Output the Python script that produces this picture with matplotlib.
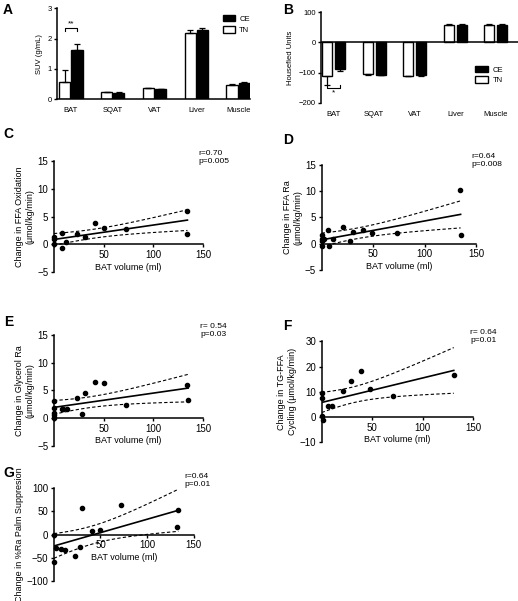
import matplotlib
matplotlib.use("Agg")
import matplotlib.pyplot as plt
from matplotlib.patches import Patch
import numpy as np

plt.rcParams['font.family'] = ['Liberation Sans', 'DejaVu Sans']
plt.rcParams['axes.linewidth'] = 1.1

tissues = ["BAT", "SQAT", "VAT", "Liver", "Muscle"]

# A: SUV (g/mL)
suv_tn = [0.57, 0.23, 0.37, 2.20, 0.47]
suv_tn_err = [0.41, 0.01, 0.01, 0.07, 0.02]
suv_ce = [1.62, 0.22, 0.32, 2.27, 0.55]
suv_ce_err = [0.21, 0.01, 0.01, 0.08, 0.02]

# B: Housefied units
hu_tn = [-110, -105, -110, 57, 57]
hu_tn_err = [30, 2, 2, 2, 2]
hu_ce = [-88, -107, -108, 58, 57]
hu_ce_err = [7, 2, 2, 2, 2]

# C: FFA oxidation
bat_c = [0, 0.5, 0, 7.7, 8.3, 12, 23, 31, 41.7, 50, 72.7, 133.7, 134.3]
ffa_ox = [1.3, 0.9, 0.0, 2.1, -0.6, 0.5, 1.8, 1.3, 3.9, 3.0, 2.8, 6.1, 1.9]

# D: FFA Ra
bat_d = [0, 0, 0.5, 0, 2, 5.8, 7, 10.7, 21, 27.5, 30, 40, 48.5, 73, 134, 135]
ffa_ra = [1.65, 0.95, 0.4, -0.45, 0.9, 2.5, -0.45, 0.8, 3.1, 0.5, 2.2, 2.5, 2.1, 2.0, 10.1, 1.65]

# E: glycerol Ra
bat_e = [0, 0, 0, 0, 0.5, 7.7, 9.3, 12.7, 23, 28, 31.7, 41.7, 50, 72.7, 133.7, 135]
glyc_ra = [0.0, 1.0, 1.9, 3.1, 0.6, 1.7, 1.6, 1.7, 3.7, 0.7, 4.5, 6.5, 6.4, 2.4, 5.9, 3.3]

# F: TG-FFA cycling
bat_f = [0, 0, 0, 1.6, 5.8, 10.4, 21, 29, 39, 48, 70.5, 131]
tg_ffa = [9.5, 7.5, 0.5, -1.1, 4.2, 4.5, 10.2, 14.4, 18.1, 11.2, 8.5, 16.6]

# G: %Ra palm suppression
bat_g = [0, 0, 2.1, 8.1, 12, 22.5, 27.5, 30.3, 40.8, 49.3, 72.2, 132.4, 133.5]
palm = [0, -57.8, -29, -31, -33, -45.5, -26, 57, 7.2, 10.8, 63.5, 16.6, 53.4]

T95 = {10: 2.228, 11: 2.201, 12: 2.179, 13: 2.160, 14: 2.145, 15: 2.131, 16: 2.120}


def fit_band(x, y):
    x = np.asarray(x, float)
    y = np.asarray(y, float)
    n = len(x)
    b, a = np.polyfit(x, y, 1)
    xs = np.linspace(x.min(), x.max(), 80)
    yh = a + b * xs
    s = np.sqrt(np.sum((y - (a + b * x)) ** 2) / (n - 2))
    se = s * np.sqrt(1 / n + (xs - x.mean()) ** 2 / np.sum((x - x.mean()) ** 2))
    t = T95[n - 2]
    return xs, yh, yh - t * se, yh + t * se


def scatter_panel(ax, x, y, ylim, yticks, ylabel, note, note_xy):
    ax.plot(x, y, 'o', color='black', ms=3, clip_on=False, zorder=3)
    xs, yh, lo, hi = fit_band(x, y)
    ax.plot(xs, yh, color='black', lw=1.2)
    ax.plot(xs, lo, color='black', lw=0.8, dashes=(3, 2))
    ax.plot(xs, hi, color='black', lw=0.8, dashes=(3, 2))
    ax.set_xlim(0, 150)
    ax.set_ylim(*ylim)
    ax.spines['top'].set_visible(False)
    ax.spines['right'].set_visible(False)
    ax.spines['bottom'].set_position(('data', 0))
    ax.set_xticks([0, 50, 100, 150])
    ax.set_xticklabels(['', '50', '100', '150'])
    ax.set_yticks(yticks)
    ax.tick_params(labelsize=7, length=2.5, width=1, pad=1.5)
    ax.set_xlabel('BAT volume (ml)', fontsize=6.5, labelpad=2)
    ax.set_ylabel(ylabel, fontsize=6.5, labelpad=2)
    ax.text(note_xy[0], note_xy[1], note, transform=ax.transAxes,
            fontsize=6, va='top', ha='left', linespacing=1.2)


fig = plt.figure(figsize=(5.18, 6.01), dpi=100)

# ---- A ----
axA = fig.add_axes([0.110, 0.835, 0.373, 0.151])
pos = np.arange(len(tissues))
w = 0.265
off = 0.145
axA.bar(pos - off, suv_tn, w, color='white', edgecolor='black', lw=1)
axA.bar(pos + off, suv_ce, w, color='black', edgecolor='black', lw=1)
axA.errorbar(pos - off, suv_tn, yerr=[np.zeros(5), suv_tn_err], fmt='none',
             ecolor='black', elinewidth=0.9, capsize=2.5, capthick=0.9)
axA.errorbar(pos + off, suv_ce, yerr=[np.zeros(5), suv_ce_err], fmt='none',
             ecolor='black', elinewidth=0.9, capsize=2.5, capthick=0.9)
axA.plot([-off, -off, off, off], [2.25, 2.34, 2.34, 2.25], color='black', lw=0.8)
axA.text(0, 2.5, '**', ha='center', va='center', fontsize=6)
axA.set_xlim(-0.335, 4.29)
axA.set_ylim(0, 3)
axA.set_yticks([0, 1, 2, 3])
axA.set_xticks(pos)
axA.set_xticklabels(tissues)
axA.spines['top'].set_visible(False)
axA.spines['right'].set_visible(False)
axA.tick_params(axis='x', length=0, pad=6, labelsize=5.5)
axA.tick_params(axis='y', length=2.5, width=1, pad=1.5, labelsize=5.5)
axA.set_ylabel('SUV (g/mL)', fontsize=5.5, labelpad=3)
axA.legend([Patch(facecolor='black', edgecolor='black'),
            Patch(facecolor='white', edgecolor='black')], ['CE', 'TN'],
           loc='upper left', bbox_to_anchor=(0.86, 0.93), frameon=False,
           fontsize=5.5, handlelength=1.5, handleheight=0.9, borderpad=0,
           borderaxespad=0, labelspacing=0.5, handletextpad=0.6)

# ---- B ----
axB = fig.add_axes([0.620, 0.829, 0.380, 0.151])
offb = 0.16
wb = 0.25
axB.bar(pos - offb, hu_tn, wb, color='white', edgecolor='black', lw=1)
axB.bar(pos + offb, hu_ce, wb, color='black', edgecolor='black', lw=1)
for vals, errs, sh in [(hu_tn, hu_tn_err, -offb), (hu_ce, hu_ce_err, offb)]:
    lo = [e if v < 0 else 0 for v, e in zip(vals, errs)]
    hi = [e if v >= 0 else 0 for v, e in zip(vals, errs)]
    axB.errorbar(pos + sh, vals, yerr=[lo, hi], fmt='none', ecolor='black',
                 elinewidth=0.9, capsize=2.5, capthick=0.9)
axB.axhline(0, color='black', lw=1.1)
axB.plot([-offb, -offb, offb, offb], [-140, -151, -151, -140], color='black', lw=0.8)
axB.text(0, -168, '*', ha='center', va='center', fontsize=6)
axB.set_xlim(-0.31, 4.55)
axB.set_ylim(-200, 100)
axB.set_yticks([-200, -100, 0, 100])
axB.set_xticks(pos)
axB.set_xticklabels(tissues)
for s in ['top', 'right', 'bottom']:
    axB.spines[s].set_visible(False)
axB.tick_params(axis='x', length=0, pad=6, labelsize=5.5)
axB.tick_params(axis='y', length=2.5, width=1, pad=1.5, labelsize=5.5)
axB.set_ylabel('Housefied Units', fontsize=5.5, labelpad=3)
axB.legend([Patch(facecolor='black', edgecolor='black'),
            Patch(facecolor='white', edgecolor='black')], ['CE', 'TN'],
           loc='upper left', bbox_to_anchor=(0.78, 0.41), frameon=False,
           fontsize=5.5, handlelength=1.8, handleheight=1.0, borderpad=0,
           borderaxespad=0, labelspacing=0.35, handletextpad=0.6)

# ---- C-G ----
axC = fig.add_axes([0.104, 0.547, 0.288, 0.185])
scatter_panel(axC, bat_c, ffa_ox, (-5, 15), [-5, 0, 5, 10, 15],
              'Change in FFA Oxidation\n(μmol/kg/min)', 'r=0.70\np=0.005', (0.97, 1.10))

axD = fig.add_axes([0.621, 0.551, 0.298, 0.175])
scatter_panel(axD, bat_d, ffa_ra, (-5, 15), [-5, 0, 5, 10, 15],
              'Change in FFA Ra\n(μmol/kg/min)', 'r=0.64\np=0.008', (0.97, 1.11))

axE = fig.add_axes([0.104, 0.258, 0.288, 0.185])
scatter_panel(axE, bat_e, glyc_ra, (-5, 15), [-5, 0, 5, 10, 15],
              'Change in Glycerol Ra\n(μmol/kg/min)', 'r= 0.54\np=0.03', (0.98, 1.11))

axF = fig.add_axes([0.621, 0.264, 0.292, 0.168])
scatter_panel(axF, bat_f, tg_ffa, (-10, 30), [-10, 0, 10, 20, 30],
              'Change in TG-FFA\nCycling (μmol/kg/min)', 'r= 0.64\np=0.01', (0.98, 1.12))

axG = fig.add_axes([0.104, 0.033, 0.270, 0.155])
scatter_panel(axG, bat_g, palm, (-100, 100), [-100, -50, 0, 50, 100],
              'Change in %Ra Palm Suppresion', 'r=0.64\np=0.01', (0.936, 1.16))

# panel letters
for lbl, x, y in [('A', 3, 3), ('B', 283, 3), ('C', 3, 127), ('D', 283, 133),
                  ('E', 4, 315), ('F', 283, 319), ('G', 3, 466)]:
    fig.text(x / 518, 1 - y / 601, lbl, fontsize=10, fontweight='bold',
             ha='left', va='top')

fig.savefig('out.png', dpi=100)
